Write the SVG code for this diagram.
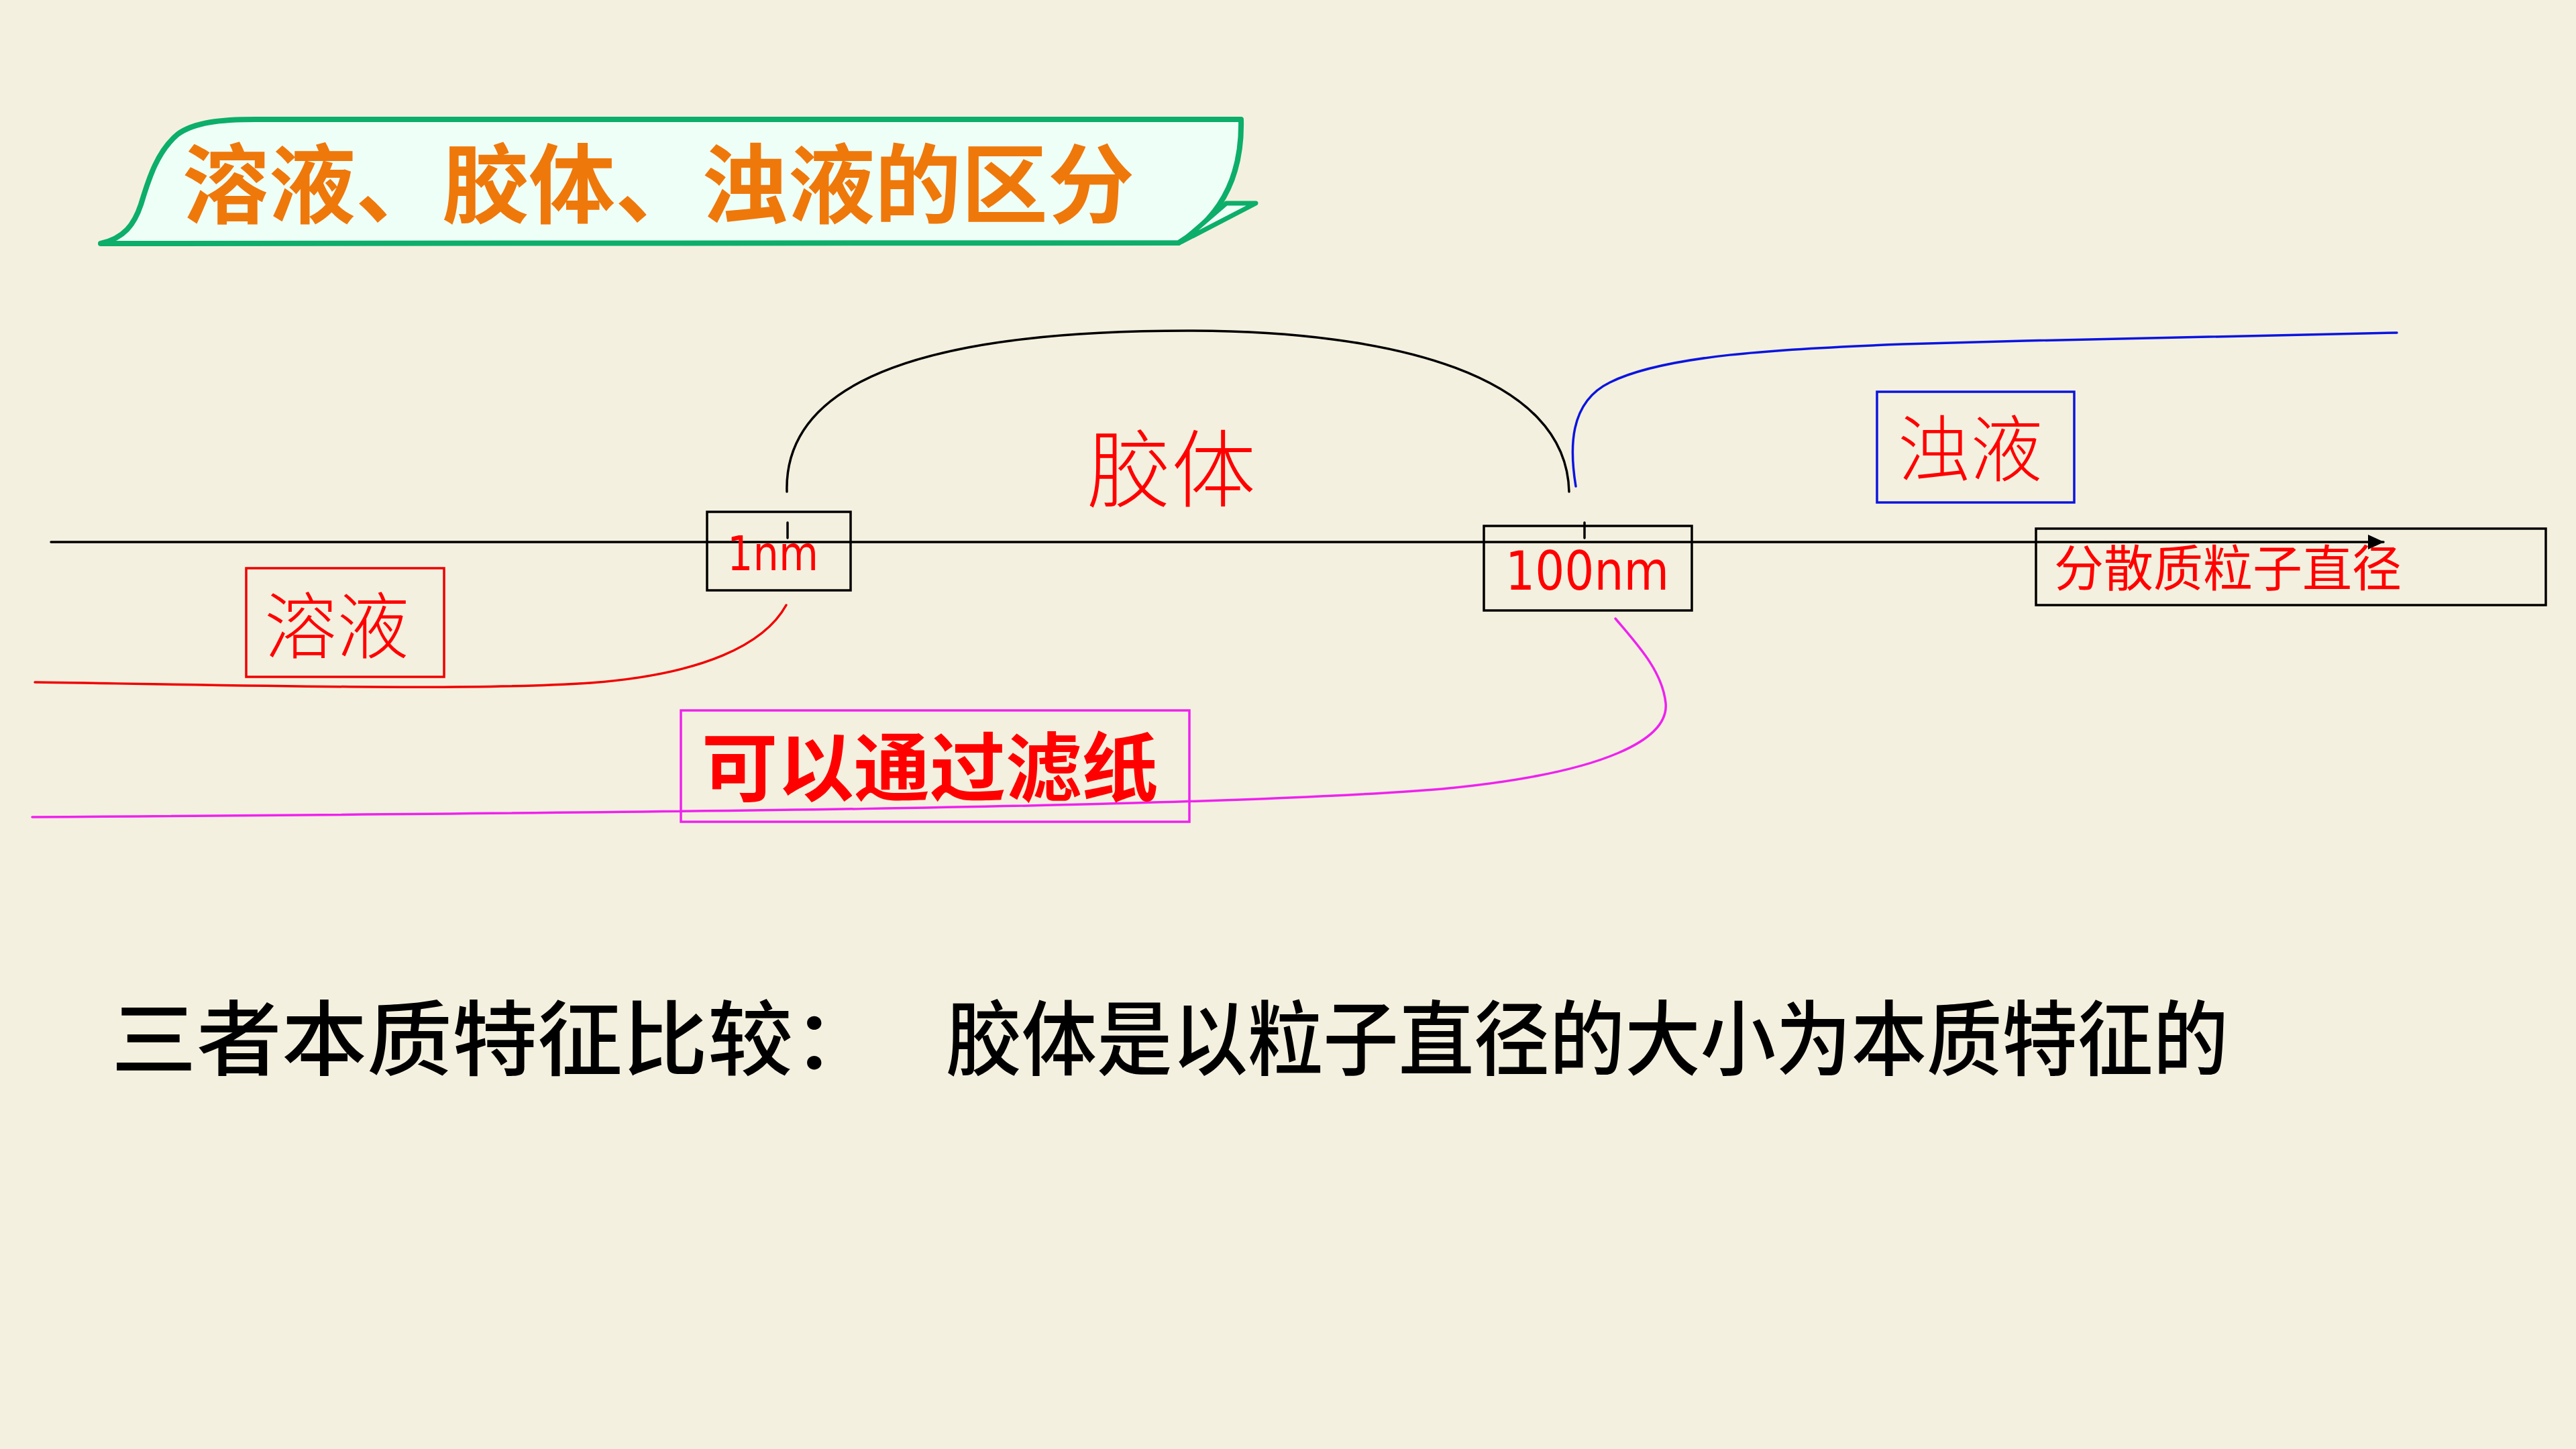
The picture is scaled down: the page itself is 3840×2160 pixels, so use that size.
<svg xmlns="http://www.w3.org/2000/svg" width="3840" height="2160" viewBox="0 0 3840 2160">
  <defs>
    <marker id="arrow" markerUnits="userSpaceOnUse" markerWidth="24" markerHeight="22" refX="23" refY="11" orient="auto">
      <path d="M0,0 L24,11 L0,22 Z" fill="#000"/>
    </marker>
  </defs>
  <style>
    .cjk { font-family: "Noto Sans CJK SC", sans-serif; }
    .red { fill: #FF0000; }
    .lat { font-family: "DejaVu Sans", "Liberation Sans", sans-serif; fill: #FF0000; }
    .box { fill: none; stroke-width: 3.5; }
    .conn { fill: none; stroke-width: 3.5; stroke-linecap: round; }
  </style>
  <rect x="0" y="0" width="3840" height="2160" fill="#F4F0DF"/>

  <g id="title">
    <path d="M150,363 C185,355 200,335 210,305 C222,265 235,225 265,200 C290,182 330,178 380,178 L1850,178 C1852,260 1822,322 1757,362 Z" fill="#EEFFF7" stroke="#0CAE6A" stroke-width="8" stroke-linejoin="round"/>
    <path d="M1828,303 L1872,303 L1762,360 Z" fill="#EEFFF7" stroke="#0CAE6A" stroke-width="7" stroke-linejoin="round"/>
    <text class="cjk" x="272" y="323" font-size="129" font-weight="bold" fill="#EF780A">溶液、胶体、浊液的区分</text>
  </g>

  <g id="connectors">
    <line class="conn" x1="76" y1="808" x2="3553" y2="808" stroke="#000" stroke-width="3.5" marker-end="url(#arrow)"/>
    <line class="conn" x1="1174" y1="779" x2="1174" y2="802" stroke="#000" stroke-width="3"/>
    <line class="conn" x1="2362" y1="779" x2="2362" y2="802" stroke="#000" stroke-width="3"/>
    <path class="conn" d="M1173,733 C1168,560 1400,493 1770,493 C2080,493 2335,560 2339,733" stroke="#000"/>
    <path class="conn" d="M2349,725 C2340,670 2338,600 2400,570 C2480,530 2650,520 2837,513 C3100,505 3400,500 3573,496" stroke="#0A14E0"/>
    <path class="conn" d="M52,1017 C400,1022 700,1030 880,1018 C1050,1005 1140,960 1172,902" stroke="#F00000"/>
    <path class="conn" d="M48,1218 C900,1212 1800,1205 2150,1176 C2400,1152 2488,1100 2483,1048 C2478,1000 2440,960 2408,922" stroke="#EE22EE"/>
  </g>

  <g id="node-1nm">
    <rect class="box" x="1054" y="763" width="214" height="117" stroke="#000"/>
    <text class="lat" x="1084" y="850" font-size="71" textLength="136" lengthAdjust="spacingAndGlyphs">1nm</text>
  </g>

  <g id="node-100nm">
    <rect class="box" x="2212" y="784" width="310" height="126" stroke="#000"/>
    <text class="lat" x="2244" y="879" font-size="81" textLength="244" lengthAdjust="spacingAndGlyphs">100nm</text>
  </g>

  <g id="node-jiaoti">
    <text class="cjk red" x="1620" y="746" font-size="126" font-weight="300">胶体</text>
  </g>

  <g id="node-rongye">
    <rect class="box" x="367" y="847" width="295" height="162" stroke="#F00000"/>
    <text class="cjk red" x="394" y="973" font-size="108" font-weight="300">溶液</text>
  </g>

  <g id="node-zhuoye">
    <rect class="box" x="2798" y="584" width="294" height="165" stroke="#0A14E0"/>
    <text class="cjk red" x="2829" y="709" font-size="108" font-weight="300">浊液</text>
  </g>

  <g id="node-filter">
    <rect class="box" x="1015" y="1059" width="758" height="166" stroke="#EE22EE" stroke-width="3"/>
    <text class="cjk red" x="1046" y="1186" font-size="112" font-weight="bold" textLength="680" lengthAdjust="spacingAndGlyphs">可以通过滤纸</text>
  </g>

  <g id="node-axis-label">
    <rect class="box" x="3035" y="788" width="760" height="114" stroke="#000"/>
    <text class="cjk red" x="3062" y="874" font-size="74" textLength="518" lengthAdjust="spacingAndGlyphs">分散质粒子直径</text>
  </g>

  <g id="summary">
    <text class="cjk" x="166" y="1593" font-size="122" font-weight="500" fill="#000" textLength="1143" lengthAdjust="spacingAndGlyphs">三者本质特征比较：</text>
    <text class="cjk" x="1410" y="1593" font-size="122" font-weight="500" fill="#000" textLength="1912" lengthAdjust="spacingAndGlyphs">胶体是以粒子直径的大小为本质特征的</text>
  </g>
</svg>
